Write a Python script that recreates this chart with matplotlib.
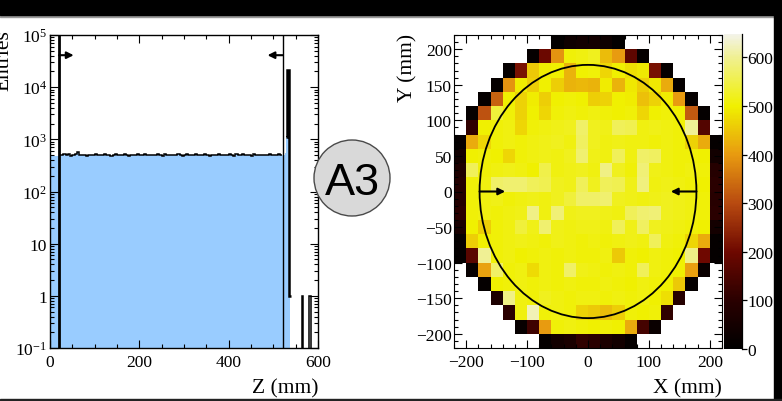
import numpy as np
import matplotlib
matplotlib.use("Agg")
import matplotlib.pyplot as plt
from matplotlib.colors import LinearSegmentedColormap
from matplotlib.patches import Circle, Ellipse, Rectangle
from matplotlib.ticker import MultipleLocator, FixedLocator, FixedFormatter, LogLocator, NullFormatter

plt.rcParams['font.family'] = 'Liberation Serif'
plt.rcParams['mathtext.fontset'] = 'custom'
plt.rcParams['mathtext.rm'] = 'Liberation Serif'
plt.rcParams['mathtext.it'] = 'Liberation Serif:italic'

# ---- Z distribution (entries per 5 mm bin, last bins around the end window) ----
z_edges = np.concatenate([np.arange(0, 530, 5), [528, 537]])
z_counts = [470, 480, 475, 485,
            505, 490, 512, 498, 520, 487, 503, 515, 560, 508,
            495, 497, 489, 510, 502, 494, 518, 506, 491, 500,
            513, 496, 504, 488, 509, 521, 499, 493, 507, 514,
            500, 486, 511, 503, 497, 519, 492, 505, 516, 498,
            490, 508, 501, 495, 512, 504, 489, 517, 506, 499,
            493, 510, 502, 520, 496, 488, 507, 513, 500, 494,
            509, 523, 497, 491, 505, 515, 502, 487, 511, 498,
            504, 519, 495, 508, 492, 501, 514, 506, 489, 512,
            497, 503, 518, 493, 509, 500, 486, 515, 504, 496,
            511, 499, 507, 490, 517, 502, 494, 508, 513, 505,
            510, 540, 1100]
peak_edges = [528, 531, 536, 540]
peak_counts = [1100, 21000, 1]
tail_bins = [([565, 567], [1]), ([580.5, 585], [1])]
z_cut = (20, 521)

# ---- X-Y map, 20 mm bins, rows from Y = 200..220 down to Y = -220..-200 ----
xy_edges = np.arange(-220, 221, 20)
xy_counts = [
    [0, 0, 0, 0, 0, 0, 0, 0, 10, 35, 45, 50, 35, 10, 0, 0, 0, 0, 0, 0, 0, 0],
    [0, 0, 0, 0, 0, 0, 15, 195, 390, 505, 510, 520, 440, 400, 175, 15, 0, 0, 0, 0, 0, 0],
    [0, 0, 0, 0, 15, 215, 455, 495, 500, 430, 500, 505, 470, 500, 480, 490, 215, 15, 0, 0, 0, 0],
    [0, 0, 0, 15, 390, 495, 460, 500, 460, 430, 435, 430, 495, 430, 490, 460, 490, 420, 15, 0, 0, 0],
    [0, 0, 15, 330, 500, 465, 495, 460, 500, 505, 500, 460, 465, 500, 495, 445, 465, 495, 400, 15, 0, 0],
    [0, 15, 310, 540, 505, 465, 500, 470, 505, 510, 505, 510, 505, 500, 505, 470, 500, 505, 500, 320, 15, 0],
    [0, 110, 500, 505, 510, 470, 505, 510, 515, 520, 570, 520, 515, 560, 555, 510, 515, 510, 505, 600, 160, 0],
    [15, 420, 470, 505, 510, 505, 510, 515, 520, 510, 565, 520, 510, 515, 510, 510, 505, 510, 505, 465, 420, 15],
    [45, 500, 505, 500, 470, 505, 510, 515, 510, 520, 575, 515, 510, 560, 510, 570, 565, 510, 505, 505, 500, 45],
    [70, 560, 505, 510, 515, 510, 500, 550, 510, 515, 520, 510, 590, 520, 505, 580, 515, 510, 505, 510, 505, 90],
    [85, 505, 510, 570, 575, 575, 560, 555, 520, 515, 560, 520, 560, 555, 515, 585, 510, 515, 510, 505, 500, 100],
    [85, 505, 510, 515, 505, 510, 515, 510, 520, 540, 570, 570, 575, 520, 515, 510, 515, 520, 515, 510, 505, 95],
    [100, 505, 510, 505, 510, 515, 590, 510, 580, 515, 520, 520, 515, 510, 560, 575, 580, 520, 515, 510, 505, 100],
    [60, 500, 460, 505, 510, 540, 515, 575, 515, 510, 515, 515, 510, 560, 515, 565, 520, 515, 510, 505, 500, 50],
    [15, 460, 500, 505, 510, 515, 510, 505, 515, 510, 505, 510, 505, 510, 515, 510, 560, 510, 505, 470, 420, 15],
    [15, 170, 600, 505, 510, 500, 505, 510, 505, 510, 505, 505, 510, 455, 505, 500, 510, 505, 500, 590, 200, 15],
    [0, 20, 410, 570, 505, 510, 475, 510, 505, 570, 515, 510, 505, 510, 505, 560, 510, 505, 500, 405, 25, 0],
    [0, 0, 15, 500, 505, 510, 505, 510, 505, 510, 505, 505, 510, 505, 500, 510, 505, 500, 455, 15, 0, 0],
    [0, 0, 0, 70, 590, 510, 505, 520, 510, 505, 510, 510, 505, 510, 505, 510, 500, 480, 90, 0, 0, 0],
    [0, 0, 0, 0, 100, 510, 620, 505, 510, 505, 465, 455, 440, 460, 505, 500, 505, 110, 0, 0, 0, 0],
    [0, 0, 0, 0, 0, 20, 130, 400, 505, 510, 505, 500, 505, 500, 420, 140, 25, 0, 0, 0, 0, 0],
    [0, 0, 0, 0, 0, 0, 0, 15, 45, 60, 110, 100, 65, 45, 15, 0, 0, 0, 0, 0, 0, 0],
]
fid_radius = 178
map_max = 648

W, H = 782, 402
fig = plt.figure(figsize=(W / 100, H / 100), dpi=100)


def box(left, top, w, h):
    return [left / W, 1 - (top + h) / H, w / W, h / H]


tick_kw = dict(direction='in', top=True, right=True, labelsize=12.5, width=0.8)

# ---------------- left: Z histogram ----------------
ax1 = fig.add_axes(box(50, 36, 268, 313))
ax1.set_yscale('log')
ax1.stairs(z_counts, z_edges, baseline=0.1, fill=True, color='#99ccff', lw=0)
ax1.stairs(z_counts[4:104], z_edges[4:105], baseline=None, color='k', lw=1.1)
ax1.stairs(peak_counts, peak_edges, baseline=None, color='k', lw=1.8)
for edges, vals in tail_bins:
    ax1.stairs(vals, edges, baseline=0.1, color='k', lw=1.1)
ax1.axvline(z_cut[0], color='k', lw=2.0)
ax1.axvline(z_cut[1], color='k', lw=1.0)
arrow = dict(arrowstyle='-|>', color='k', lw=1.5, mutation_scale=10, shrinkA=0, shrinkB=0)
ax1.annotate('', xy=(z_cut[0] + 33, 4.1e4), xytext=(z_cut[0], 4.1e4), arrowprops=arrow)
ax1.annotate('', xy=(z_cut[1] - 34, 4.1e4), xytext=(z_cut[1], 4.1e4), arrowprops=arrow)
ax1.set_xlim(0, 600)
ax1.set_ylim(0.1, 1e5)
ax1.xaxis.set_major_locator(MultipleLocator(200))
ax1.xaxis.set_minor_locator(MultipleLocator(50))
ax1.yaxis.set_major_locator(FixedLocator([0.1, 1, 10, 100, 1e3, 1e4, 1e5]))
ax1.yaxis.set_major_formatter(FixedFormatter(
    ['$10^{-1}$', '1', '10', '$10^{2}$', '$10^{3}$', '$10^{4}$', '$10^{5}$']))
ax1.yaxis.set_minor_locator(LogLocator(base=10, subs=np.arange(2, 10)))
ax1.yaxis.set_minor_formatter(NullFormatter())
ax1.tick_params(which='both', **tick_kw)
ax1.tick_params(which='major', length=6)
ax1.tick_params(which='minor', length=3)
ax1.tick_params(axis='x', pad=4)
ax1.tick_params(axis='y', pad=2)
for s in ax1.spines.values():
    s.set_linewidth(1.0)

fig.text(318 / W, 1 - 393 / H, 'Z (mm)', ha='right', va='baseline', fontsize=15.5)
fig.text(8.5 / W, 1 - 30 / H, 'Entries', rotation=90, rotation_mode='anchor',
         ha='right', va='baseline', fontsize=15.5)

# ---------------- right: X-Y map ----------------
heat = LinearSegmentedColormap.from_list('body', [
    (0.0, '#000000'), (100 / map_max, '#2a0000'), (200 / map_max, '#6e0800'),
    (300 / map_max, '#b84a10'), (400 / map_max, '#e89a10'), (500 / map_max, '#f0f000'),
    (600 / map_max, '#f0f090'), (1.0, '#f3f3ea')])

ax2 = fig.add_axes(box(454, 36, 268, 313))
grid = np.ma.masked_equal(np.array(xy_counts, dtype=float)[::-1], 0)
mesh = ax2.pcolormesh(xy_edges, xy_edges, grid, cmap=heat, vmin=0, vmax=map_max,
                      antialiased=False, edgecolors='none')
ax2.add_patch(Circle((0, 0), fid_radius, fill=False, color='k', lw=1.3))
ax2.annotate('', xy=(-fid_radius + 42, 0), xytext=(-fid_radius, 0), arrowprops=arrow)
ax2.annotate('', xy=(fid_radius - 42, 0), xytext=(fid_radius, 0), arrowprops=arrow)
ax2.set_xlim(-220, 220)
ax2.set_ylim(-220, 220)
ax2.xaxis.set_major_locator(MultipleLocator(100))
ax2.xaxis.set_minor_locator(MultipleLocator(20))
ax2.yaxis.set_major_locator(MultipleLocator(50))
ax2.yaxis.set_minor_locator(MultipleLocator(10))
ax2.tick_params(which='both', **tick_kw)
ax2.tick_params(which='major', length=6)
ax2.tick_params(which='minor', length=3)
ax2.tick_params(axis='x', pad=4)
ax2.tick_params(axis='y', pad=1.5)

fig.text(722 / W, 1 - 393 / H, 'X (mm)', ha='right', va='baseline', fontsize=15.5)
fig.text(412.5 / W, 1 - 34 / H, 'Y (mm)', rotation=90, rotation_mode='anchor',
         ha='right', va='baseline', fontsize=15.5)

cax = fig.add_axes(box(724, 35, 18, 315))
cb = fig.colorbar(mesh, cax=cax)
cb.set_ticks(np.arange(0, 700, 100))
cb.outline.set_visible(False)
cax.minorticks_off()
cax.tick_params(direction='out', length=3.5, width=0.9, pad=0.5, labelsize=12.5)
cax.plot([1, 1], [0, 1], transform=cax.transAxes, color='k', lw=0.9, clip_on=False)

# ---------------- slide frame and badge ----------------
fig.add_artist(Rectangle((0, 1 - 17.5 / H), 1, 1.5 / H, transform=fig.transFigure, color='#9a9a9a'))
fig.add_artist(Rectangle((0, 1 - 16 / H), 1, 16 / H, transform=fig.transFigure, color='k'))
fig.add_artist(Rectangle((774 / W, 0), 8 / W, 1, transform=fig.transFigure, color='k'))
fig.add_artist(Rectangle((0, 0), 1, 2.5 / H, transform=fig.transFigure, color='#222222'))

fig.add_artist(Ellipse((352 / W, 1 - 179 / H), 76 / W, 76 / H, transform=fig.transFigure,
                       fc='#d9d9d9', ec='#4a4a4a', lw=1.0))
fig.text(352 / W, 1 - 195 / H, 'A3', ha='center', va='baseline', fontsize=32.5,
         family='Liberation Sans')

fig.savefig('out.png', dpi=100)
